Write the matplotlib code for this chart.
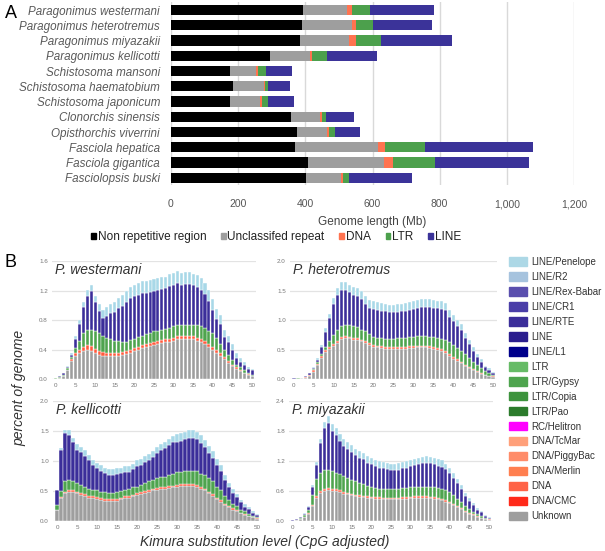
import numpy as np
import matplotlib
matplotlib.use("Agg")
import matplotlib.pyplot as plt
from matplotlib.patches import Patch
from matplotlib.ticker import FuncFormatter

plt.rcParams["font.family"] = ["Liberation Sans", "DejaVu Sans"]

# ------------------------------------------------------------
# Panel A: genome composition (Mb)
# ------------------------------------------------------------
species = ["Paragonimus westermani", "Paragonimus heterotremus", "Paragonimus miyazakii",
           "Paragonimus kellicotti", "Schistosoma mansoni", "Schistosoma haematobium",
           "Schistosoma japonicum", "Clonorchis sinensis", "Opisthorchis viverrini",
           "Fasciola hepatica", "Fasciola gigantica", "Fasciolopsis buski"]
non_repetitive = [393, 389, 385, 295, 177, 185, 177, 358, 374, 370, 409, 401]
unclassified   = [130, 150, 146, 118, 77, 92, 87, 87, 90, 247, 225, 104]
dna_mb         = [15, 11, 19, 8, 5, 3, 8, 5, 5, 20, 27, 6]
ltr_mb         = [56, 52, 75, 43, 24, 8, 16, 11, 18, 118, 125, 20]
line_mb        = [188, 176, 212, 149, 78, 66, 78, 85, 75, 323, 279, 188]
labels_a = ["Non repetitive region", "Unclassifed repeat", "DNA", "LTR", "LINE"]
colors_a = ["#000000", "#9e9e9e", "#ff7350", "#4ca04c", "#3b3399"]

# ------------------------------------------------------------
# Panel B: repeat landscapes, % of genome per Kimura bin
# (cumulative top of each stacked layer: Unknown, DNA, LTR, LINE, LINE/Penelope)
# ------------------------------------------------------------
kimura_bins = list(range(51))

wes_unknown = [0.01, 0.02, 0.05, 0.12, 0.25, 0.32, 0.36, 0.38, 0.40, 0.38,
               0.35, 0.33, 0.32, 0.32, 0.32, 0.32, 0.32, 0.33, 0.34, 0.36,
               0.38, 0.40, 0.42, 0.44, 0.45, 0.46, 0.48, 0.49, 0.50, 0.51,
               0.52, 0.54, 0.55, 0.55, 0.54, 0.54, 0.52, 0.50, 0.48, 0.44,
               0.40, 0.36, 0.32, 0.27, 0.22, 0.18, 0.14, 0.11, 0.08, 0.06, 0.04]
wes_dna = [0.01, 0.02, 0.05, 0.13, 0.27, 0.35, 0.40, 0.44, 0.46, 0.45,
           0.41, 0.38, 0.37, 0.36, 0.36, 0.36, 0.36, 0.37, 0.38, 0.40,
           0.42, 0.44, 0.46, 0.48, 0.49, 0.50, 0.52, 0.53, 0.54, 0.55,
           0.56, 0.58, 0.59, 0.59, 0.58, 0.58, 0.56, 0.54, 0.52, 0.48,
           0.44, 0.39, 0.35, 0.30, 0.25, 0.20, 0.16, 0.12, 0.09, 0.07, 0.05]
wes_ltr = [0.02, 0.03, 0.06, 0.15, 0.30, 0.42, 0.52, 0.62, 0.67, 0.67,
           0.66, 0.62, 0.58, 0.56, 0.54, 0.52, 0.52, 0.51, 0.51, 0.53,
           0.55, 0.57, 0.59, 0.61, 0.63, 0.65, 0.66, 0.67, 0.68, 0.70,
           0.72, 0.73, 0.74, 0.74, 0.74, 0.74, 0.73, 0.72, 0.70, 0.66,
           0.62, 0.56, 0.48, 0.40, 0.33, 0.26, 0.20, 0.16, 0.12, 0.09, 0.06]
wes_line = [0.02, 0.04, 0.08, 0.17, 0.33, 0.55, 0.75, 0.98, 1.13, 1.20,
            1.04, 0.92, 0.83, 0.86, 0.89, 0.91, 0.96, 0.99, 1.05, 1.10,
            1.12, 1.14, 1.17, 1.17, 1.18, 1.20, 1.21, 1.22, 1.23, 1.26,
            1.28, 1.30, 1.28, 1.29, 1.29, 1.27, 1.25, 1.21, 1.15, 1.06,
            0.94, 0.82, 0.75, 0.57, 0.50, 0.40, 0.29, 0.24, 0.19, 0.14, 0.12]
wes_total = [0.02, 0.04, 0.08, 0.18, 0.35, 0.58, 0.80, 1.05, 1.21, 1.28,
             1.13, 1.02, 0.94, 0.98, 1.02, 1.05, 1.10, 1.14, 1.20, 1.25,
             1.28, 1.30, 1.33, 1.33, 1.34, 1.36, 1.37, 1.38, 1.39, 1.42,
             1.44, 1.46, 1.44, 1.45, 1.45, 1.43, 1.41, 1.37, 1.30, 1.21,
             1.08, 0.95, 0.87, 0.67, 0.59, 0.48, 0.35, 0.29, 0.23, 0.17, 0.14]

het_unknown = [0.01, 0.01, 0.02, 0.03, 0.06, 0.13, 0.24, 0.36, 0.46, 0.52,
               0.56, 0.62, 0.68, 0.70, 0.69, 0.67, 0.66, 0.64, 0.61, 0.58,
               0.55, 0.54, 0.53, 0.52, 0.52, 0.52, 0.52, 0.52, 0.52, 0.53,
               0.53, 0.54, 0.54, 0.54, 0.53, 0.52, 0.50, 0.48, 0.44, 0.39,
               0.34, 0.31, 0.27, 0.23, 0.19, 0.15, 0.12, 0.09, 0.07, 0.05, 0.04]
het_dna = [0.01, 0.01, 0.02, 0.035, 0.07, 0.15, 0.26, 0.39, 0.49, 0.55,
           0.59, 0.65, 0.71, 0.73, 0.72, 0.70, 0.69, 0.67, 0.64, 0.61,
           0.58, 0.57, 0.56, 0.55, 0.55, 0.55, 0.55, 0.55, 0.55, 0.56,
           0.56, 0.57, 0.57, 0.57, 0.56, 0.55, 0.53, 0.51, 0.47, 0.42,
           0.37, 0.34, 0.30, 0.25, 0.21, 0.17, 0.14, 0.11, 0.08, 0.06, 0.05]
het_ltr = [0.01, 0.015, 0.02, 0.04, 0.08, 0.17, 0.29, 0.43, 0.55, 0.65,
           0.75, 0.84, 0.90, 0.92, 0.92, 0.90, 0.88, 0.84, 0.81, 0.77,
           0.72, 0.70, 0.69, 0.68, 0.68, 0.68, 0.69, 0.69, 0.70, 0.71,
           0.72, 0.73, 0.73, 0.73, 0.72, 0.71, 0.70, 0.68, 0.67, 0.63,
           0.58, 0.53, 0.47, 0.42, 0.36, 0.30, 0.24, 0.19, 0.14, 0.10, 0.07]
het_line = [0.02, 0.02, 0.03, 0.055, 0.10, 0.19, 0.33, 0.54, 0.80, 1.03,
            1.27, 1.42, 1.51, 1.51, 1.47, 1.43, 1.41, 1.36, 1.27, 1.21,
            1.19, 1.17, 1.16, 1.15, 1.13, 1.13, 1.14, 1.15, 1.16, 1.17,
            1.19, 1.21, 1.23, 1.23, 1.23, 1.21, 1.20, 1.19, 1.17, 1.06,
            0.98, 0.90, 0.84, 0.70, 0.60, 0.48, 0.37, 0.30, 0.20, 0.16, 0.11]
het_total = [0.02, 0.02, 0.03, 0.06, 0.11, 0.21, 0.36, 0.58, 0.86, 1.11,
             1.37, 1.54, 1.64, 1.64, 1.60, 1.56, 1.54, 1.49, 1.40, 1.34,
             1.32, 1.30, 1.29, 1.28, 1.26, 1.26, 1.27, 1.28, 1.29, 1.30,
             1.32, 1.34, 1.36, 1.36, 1.36, 1.34, 1.33, 1.32, 1.29, 1.18,
             1.09, 1.00, 0.93, 0.78, 0.67, 0.54, 0.42, 0.34, 0.23, 0.19, 0.13]

kel_unknown = [0.18, 0.38, 0.46, 0.49, 0.49, 0.46, 0.43, 0.42, 0.39, 0.38,
               0.37, 0.35, 0.34, 0.33, 0.33, 0.34, 0.36, 0.38, 0.39, 0.41,
               0.43, 0.45, 0.47, 0.49, 0.51, 0.52, 0.53, 0.54, 0.55, 0.56,
               0.57, 0.58, 0.59, 0.59, 0.59, 0.57, 0.54, 0.51, 0.46, 0.42,
               0.36, 0.32, 0.27, 0.23, 0.19, 0.16, 0.13, 0.10, 0.08, 0.06, 0.04]
kel_dna = [0.19, 0.40, 0.49, 0.52, 0.52, 0.49, 0.46, 0.45, 0.42, 0.41,
           0.40, 0.38, 0.37, 0.36, 0.36, 0.37, 0.39, 0.41, 0.42, 0.44,
           0.46, 0.48, 0.50, 0.52, 0.54, 0.55, 0.56, 0.57, 0.58, 0.59,
           0.60, 0.61, 0.62, 0.62, 0.62, 0.60, 0.57, 0.54, 0.49, 0.45,
           0.39, 0.35, 0.29, 0.25, 0.21, 0.18, 0.14, 0.11, 0.09, 0.07, 0.05]
kel_ltr = [0.27, 0.50, 0.66, 0.68, 0.67, 0.64, 0.60, 0.57, 0.54, 0.52,
           0.51, 0.49, 0.48, 0.47, 0.47, 0.48, 0.50, 0.52, 0.53, 0.56,
           0.57, 0.60, 0.63, 0.66, 0.68, 0.71, 0.73, 0.74, 0.76, 0.78,
           0.81, 0.82, 0.83, 0.84, 0.84, 0.84, 0.79, 0.76, 0.71, 0.66,
           0.57, 0.52, 0.42, 0.35, 0.29, 0.25, 0.19, 0.16, 0.12, 0.08, 0.06]
kel_line = [0.52, 1.18, 1.47, 1.44, 1.31, 1.19, 1.15, 1.09, 1.01, 0.93,
            0.88, 0.84, 0.80, 0.77, 0.77, 0.79, 0.80, 0.82, 0.82, 0.86,
            0.91, 0.93, 0.98, 1.02, 1.07, 1.14, 1.18, 1.22, 1.26, 1.31,
            1.32, 1.34, 1.36, 1.39, 1.38, 1.36, 1.30, 1.23, 1.13, 1.05,
            0.94, 0.84, 0.69, 0.56, 0.47, 0.40, 0.31, 0.24, 0.20, 0.14, 0.10]
kel_total = [0.52, 1.21, 1.52, 1.51, 1.39, 1.28, 1.24, 1.18, 1.10, 1.02,
             0.97, 0.93, 0.89, 0.86, 0.86, 0.88, 0.89, 0.91, 0.91, 0.95,
             1.01, 1.03, 1.08, 1.12, 1.17, 1.24, 1.28, 1.32, 1.36, 1.41,
             1.45, 1.47, 1.49, 1.52, 1.51, 1.49, 1.43, 1.35, 1.25, 1.16,
             1.04, 0.93, 0.77, 0.63, 0.53, 0.45, 0.35, 0.28, 0.23, 0.16, 0.12]

miy_unknown = [0.01, 0.02, 0.04, 0.08, 0.15, 0.30, 0.46, 0.57, 0.61, 0.62,
               0.61, 0.60, 0.58, 0.55, 0.54, 0.52, 0.50, 0.49, 0.48, 0.47,
               0.46, 0.45, 0.45, 0.44, 0.44, 0.44, 0.44, 0.44, 0.45, 0.45,
               0.46, 0.47, 0.47, 0.47, 0.47, 0.46, 0.45, 0.44, 0.42, 0.39,
               0.36, 0.32, 0.28, 0.24, 0.19, 0.15, 0.12, 0.09, 0.06, 0.04, 0.03]
miy_dna = [0.01, 0.02, 0.05, 0.09, 0.17, 0.33, 0.50, 0.61, 0.65, 0.66,
           0.65, 0.64, 0.62, 0.58, 0.57, 0.55, 0.53, 0.52, 0.51, 0.50,
           0.49, 0.48, 0.48, 0.47, 0.47, 0.47, 0.47, 0.47, 0.48, 0.48,
           0.49, 0.50, 0.50, 0.50, 0.50, 0.49, 0.48, 0.47, 0.45, 0.42,
           0.39, 0.35, 0.31, 0.26, 0.21, 0.17, 0.14, 0.10, 0.07, 0.05, 0.04]
miy_ltr = [0.01, 0.03, 0.06, 0.12, 0.22, 0.52, 0.85, 0.97, 1.02, 1.02,
           1.00, 0.97, 0.94, 0.90, 0.87, 0.83, 0.81, 0.77, 0.74, 0.71,
           0.69, 0.66, 0.65, 0.65, 0.65, 0.65, 0.65, 0.65, 0.66, 0.67,
           0.69, 0.69, 0.69, 0.69, 0.69, 0.69, 0.68, 0.67, 0.65, 0.62,
           0.58, 0.52, 0.45, 0.38, 0.30, 0.24, 0.19, 0.14, 0.10, 0.07, 0.05]
miy_line = [0.02, 0.04, 0.08, 0.15, 0.28, 0.68, 1.12, 1.57, 1.87, 1.96,
            1.81, 1.73, 1.61, 1.51, 1.45, 1.38, 1.32, 1.27, 1.24, 1.17,
            1.14, 1.10, 1.07, 1.06, 1.04, 1.02, 1.02, 1.03, 1.06, 1.07,
            1.10, 1.12, 1.14, 1.16, 1.17, 1.16, 1.14, 1.11, 1.09, 1.04,
            0.96, 0.87, 0.76, 0.65, 0.50, 0.41, 0.32, 0.23, 0.18, 0.10, 0.07]
miy_total = [0.02, 0.04, 0.08, 0.16, 0.30, 0.72, 1.18, 1.65, 1.98, 2.10,
             1.95, 1.87, 1.75, 1.65, 1.59, 1.52, 1.45, 1.40, 1.37, 1.30,
             1.27, 1.23, 1.20, 1.19, 1.17, 1.15, 1.15, 1.16, 1.19, 1.20,
             1.23, 1.25, 1.27, 1.29, 1.30, 1.29, 1.27, 1.24, 1.22, 1.15,
             1.06, 0.96, 0.84, 0.72, 0.56, 0.46, 0.36, 0.26, 0.20, 0.12, 0.08]

layer_colors = ["#9e9e9e", "#ff5a3d", "#4ea44e", "#3b2e9a", "#a8d8e8"]

legend_b_labels = ["LINE/Penelope", "LINE/R2", "LINE/Rex-Babar", "LINE/CR1", "LINE/RTE",
                   "LINE", "LINE/L1", "LTR", "LTR/Gypsy", "LTR/Copia", "LTR/Pao",
                   "RC/Helitron", "DNA/TcMar", "DNA/PiggyBac", "DNA/Merlin", "DNA",
                   "DNA/CMC", "Unknown"]
legend_b_colors = ["#add8e6", "#a6c3de", "#5a4fae", "#4a3ea8", "#3b2e9a",
                   "#2a1d8e", "#00008b", "#66bb66", "#4ea44e", "#3d933d", "#2b7b2b",
                   "#ff00ff", "#ffa07a", "#ff8c69", "#ff7f50", "#ff6347",
                   "#ff2a1a", "#9e9e9e"]

W, H = 605, 551
fig = plt.figure(figsize=(W / 100, H / 100), dpi=100)


def px_axes(left, top, right, bottom):
    return fig.add_axes([left / W, 1 - bottom / H, (right - left) / W, (bottom - top) / H])


# ---------- Panel A ----------
axA = px_axes(171, 2.4, 574, 185.4)
ypos = np.arange(len(species))
left = np.zeros(len(species))
for vals, col, lab in zip([non_repetitive, unclassified, dna_mb, ltr_mb, line_mb],
                          colors_a, labels_a):
    axA.barh(ypos, vals, left=left, height=0.66, color=col, label=lab, zorder=3)
    left += np.array(vals)

axA.set_xlim(0, 1200)
axA.set_ylim(len(species) - 0.5, -0.5)
axA.set_xticks(range(0, 1201, 200))
axA.xaxis.set_major_formatter(FuncFormatter(lambda v, _: f"{v:,.0f}"))
axA.set_yticks(ypos)
axA.set_yticklabels(species, fontstyle="italic", fontsize=8.4, color="#595959")
axA.grid(axis="x", color="#d9d9d9", lw=1, zorder=0)
axA.set_axisbelow(True)
for s in axA.spines.values():
    s.set_visible(False)
axA.tick_params(axis="x", length=0, pad=10, labelsize=7.5, labelcolor="#555555")
axA.tick_params(axis="y", length=0, pad=8)
axA.set_xlabel("Genome length (Mb)", fontsize=8.5, color="#444444", labelpad=5)

handles_a = [Patch(color=c, label=l) for c, l in zip(colors_a, labels_a)]
fig.legend(handles=handles_a, loc="center", bbox_to_anchor=(276 / W, 1 - 237 / H),
           ncol=5, frameon=False, fontsize=8.5, handlelength=0.4, handleheight=0.4,
           handletextpad=0.15, columnspacing=1.25, labelcolor="#222222")

fig.text(5 / W, 1 - 13 / H, "A", fontsize=13, va="center", ha="left")
fig.text(5 / W, 1 - 263 / H, "B", fontsize=13, va="center", ha="left")

# ---------- Panel B ----------
panels = [
    ("P. westermani", [wes_unknown, wes_dna, wes_ltr, wes_line, wes_total], 1.6, 0.4,
     (52, 261, 256, 379.3)),
    ("P. heterotremus", [het_unknown, het_dna, het_ltr, het_line, het_total], 2.0, 0.5,
     (290, 261, 497, 379.3)),
    ("P. kellicotti", [kel_unknown, kel_dna, kel_ltr, kel_line, kel_total], 2.0, 0.5,
     (53, 401, 261, 521)),
    ("P. miyazakii", [miy_unknown, miy_dna, miy_ltr, miy_line, miy_total], 2.4, 0.6,
     (289, 401, 493, 521)),
]

for title, tops, ymax, step, box in panels:
    ax = px_axes(*box)
    prev = np.zeros(len(kimura_bins))
    for top, col in zip(tops, layer_colors):
        top = np.array(top, dtype=float)
        ax.bar(kimura_bins, np.clip(top - prev, 0, None), bottom=prev, width=0.78,
               color=col, edgecolor="white", lw=0.3, zorder=3)
        prev = np.maximum(prev, top)
    ax.set_xlim(-1, 51)
    ax.set_ylim(0, ymax)
    ax.set_yticks(np.arange(0, ymax + 1e-9, step))
    ax.yaxis.set_major_formatter(FuncFormatter(lambda v, _: f"{v:.1f}"))
    ax.set_xticks(range(0, 51, 5))
    ax.grid(axis="y", color="#e3e3e3", lw=0.9, zorder=0)
    ax.set_axisbelow(True)
    for s in ax.spines.values():
        s.set_visible(False)
    ax.tick_params(length=0, labelsize=4.5, labelcolor="#777777", pad=3)
    ax.text(0.015, 0.985, title, transform=ax.transAxes, fontsize=10,
            fontstyle="italic", color="#333333", va="top", ha="left")

fig.text(19 / W, 1 - 388 / H, "percent of genome", rotation=90, fontsize=10,
         fontstyle="italic", color="#333333", ha="center", va="center")
fig.text(265 / W, 1 - 542 / H, "Kimura substitution level (CpG adjusted)", fontsize=10,
         fontstyle="italic", color="#333333", ha="center", va="center")

handles_b = [Patch(color=c, label=l) for c, l in zip(legend_b_colors, legend_b_labels)]
fig.legend(handles=handles_b, loc="upper left", bbox_to_anchor=(509 / W, 1 - 257 / H),
           frameon=False, fontsize=7, handlelength=1.9, handleheight=0.95,
           handletextpad=0.4, labelspacing=0.51, borderpad=0, borderaxespad=0,
           labelcolor="#333333")

fig.savefig("out.png", dpi=100)
